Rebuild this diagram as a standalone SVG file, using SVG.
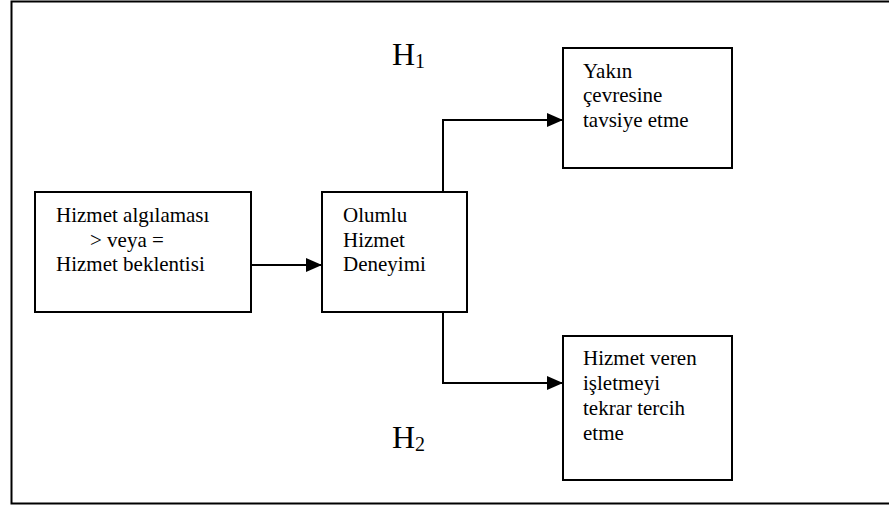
<svg xmlns="http://www.w3.org/2000/svg" width="889" height="506" viewBox="0 0 889 506">
<defs>
<style>
.box{fill:#fff;stroke:#000;stroke-width:2}
.conn{fill:none;stroke:#000;stroke-width:2}
.lbl{font-family:'Liberation Serif','Times New Roman',serif;font-size:21px;fill:#000}
.hyp{font-family:'Liberation Serif','Times New Roman',serif;font-size:32px;fill:#000}
</style>
<marker id="arr" markerUnits="userSpaceOnUse" markerWidth="16" markerHeight="14" refX="16" refY="7" orient="auto">
<path d="M0,0 L16,7 L0,14 z" fill="#000"/>
</marker>
</defs>
<rect x="0" y="0" width="889" height="506" fill="#fff"/>
<path d="M889,1.5 L11.5,1.5 L11.5,503.5 L889,503.5" fill="none" stroke="#000" stroke-width="2"/>
<g id="connectors">
<line class="conn" x1="251" y1="265" x2="322" y2="265" marker-end="url(#arr)"/>
<polyline class="conn" points="443,192 443,120 563,120" marker-end="url(#arr)"/>
<polyline class="conn" points="443,312 443,383 563,383" marker-end="url(#arr)"/>
</g>
<g id="node-algilama">
<rect class="box" x="35" y="192" width="216" height="120"/>
<text class="lbl" x="56" y="222">Hizmet algılaması</text>
<text class="lbl" x="90" y="247">&gt; veya =</text>
<text class="lbl" x="56" y="271">Hizmet beklentisi</text>
</g>
<g id="node-deneyim">
<rect class="box" x="322" y="192" width="145" height="120"/>
<text class="lbl" x="343" y="222">Olumlu</text>
<text class="lbl" x="343" y="247">Hizmet</text>
<text class="lbl" x="343" y="271">Deneyimi</text>
</g>
<g id="node-tavsiye">
<rect class="box" x="563" y="48" width="169" height="120"/>
<text class="lbl" x="583" y="78">Yakın</text>
<text class="lbl" x="583" y="102">çevresine</text>
<text class="lbl" x="583" y="127">tavsiye etme</text>
</g>
<g id="node-tercih">
<rect class="box" x="563" y="336" width="169" height="144"/>
<text class="lbl" x="583" y="365">Hizmet veren</text>
<text class="lbl" x="583" y="390">işletmeyi</text>
<text class="lbl" x="583" y="415">tekrar tercih</text>
<text class="lbl" x="583" y="440">etme</text>
</g>
<g id="label-h1">
<text class="hyp" x="392" y="65">H<tspan font-size="20" dy="3">1</tspan></text>
</g>
<g id="label-h2">
<text class="hyp" x="392" y="448">H<tspan font-size="20" dy="3">2</tspan></text>
</g>
</svg>
